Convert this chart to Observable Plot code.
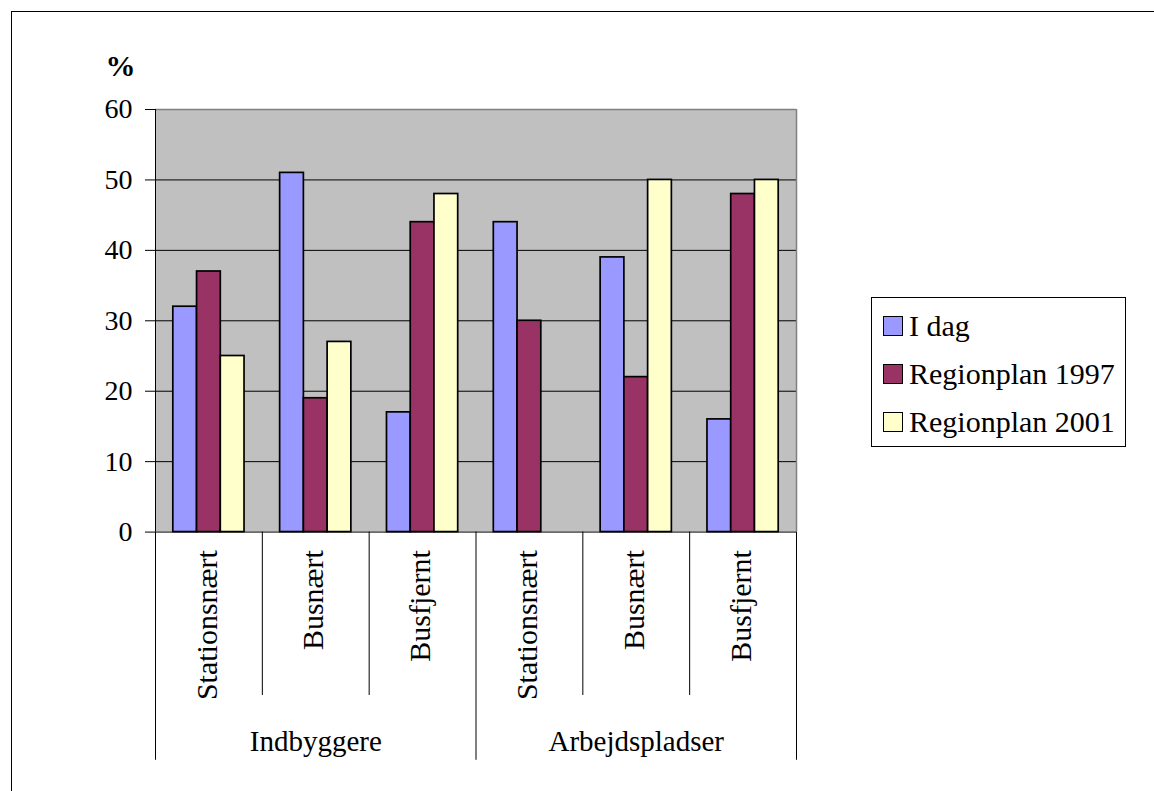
<!DOCTYPE html>
<html>
<head>
<meta charset="utf-8">
<script src="https://cdn.jsdelivr.net/npm/d3@7"></script>
<script src="https://cdn.jsdelivr.net/npm/@observablehq/plot@0.6"></script>
<style>
  html, body { margin: 0; padding: 0; background: #fff; }
  #wrap { position: relative; width: 1154px; height: 791px; overflow: hidden; font-family: "Liberation Serif", "Times New Roman", serif; }
  #frame { position: absolute; left: 11px; top: 11px; width: 1200px; height: 900px; border-top: 1.5px solid #000; border-left: 1.5px solid #000; }
  #chart { position: absolute; left: 0; top: 0; }
  #legend { position: absolute; left: 871px; top: 297px; width: 253px; height: 144px; border: 1px solid #000; background: #fff; padding-top: 4px; box-sizing: content-box; }
  .item { height: 48px; display: flex; align-items: center; font-size: 30px; color: #000; }
  .sw { width: 18px; height: 18px; border: 1.5px solid #000; margin-left: 11px; margin-right: 6px; }
</style>
</head>
<body>
<div id="wrap">
  <div id="frame"></div>
  <div id="chart"></div>
  <div id="legend"></div>
</div>
<script>
// ---- data ----
const groupNames = ["Indbyggere", "Arbejdspladser"];
const subcats = ["Stationsnært", "Busnært", "Busfjernt", "Stationsnært", "Busnært", "Busfjernt"];
const series = ["I dag", "Regionplan 1997", "Regionplan 2001"];
const iDag = [32, 51, 17, 44, 39, 16];
const rp1997 = [37, 19, 44, 30, 22, 48];
const rp2001 = [25, 27, 48, null, 50, 50];
const colors = ["#9999FF", "#993366", "#FFFFCC"];
const yTicks = [0, 10, 20, 30, 40, 50, 60];

// ---- table ----
const seriesValues = [iDag, rp1997, rp2001];
const rows = [];
subcats.forEach((c, i) => {
  seriesValues.forEach((vals, s) => {
    if (vals[i] != null) rows.push({i, s, series: series[s], value: vals[i]});
  });
});

const gapWidth = 1.5;                       // Excel-like gap width (150%)
const slots = series.length + gapWidth;
const nCat = subcats.length;
const perGroup = nCat / groupNames.length;

const chart = Plot.plot({
  width: 1154,
  height: 791,
  marginLeft: 155,
  marginRight: 358,
  marginTop: 109,
  marginBottom: 27,
  style: {fontFamily: "'Liberation Serif', 'Times New Roman', serif", fontSize: "28px", background: "transparent", color: "#000", overflow: "visible"},
  x: {type: "linear", domain: [0, nCat], axis: null},
  y: {domain: [-33, 60], ticks: yTicks, tickSize: 10, tickPadding: 13, label: null, tickFormat: d => String(d)},
  color: {domain: series, range: colors},
  marks: [
    Plot.rect([0], {x1: 0, x2: nCat, y1: 0, y2: 60, fill: "#C0C0C0"}),
    Plot.ruleY(yTicks.filter(t => t > 0 && t < 60), {x1: 0, x2: nCat, stroke: "#000", strokeWidth: 1}),
    Plot.ruleY([60], {x1: 0, x2: nCat, stroke: "#808080", strokeWidth: 1.5}),
    Plot.ruleX([nCat], {y1: 0, y2: 60, stroke: "#808080", strokeWidth: 1.5}),
    Plot.rectY(rows, {
      x1: d => d.i + (gapWidth / 2 + d.s) / slots,
      x2: d => d.i + (gapWidth / 2 + d.s + 1) / slots,
      y1: 0, y2: "value",
      fill: "series", stroke: "#000", strokeWidth: 1.7
    }),
    Plot.ruleX([0], {y1: 0, y2: 60, stroke: "#000", strokeWidth: 1}),
    Plot.ruleY([0], {x1: 0, x2: nCat, stroke: "#000", strokeWidth: 1}),
    // category dividers below the axis
    Plot.ruleX(d3.range(0, nCat + 1), {
      y1: 0,
      y2: d => d % perGroup === 0 ? -32.4 : -23.2,
      stroke: "#000", strokeWidth: 1
    }),
    Plot.text(subcats, {x: (d, i) => i + 0.5, y: 0, text: d => d, rotate: -90, textAnchor: "end", dy: 18, dx: -2, fontSize: 30, fill: "#000"}),
    Plot.text(groupNames, {x: (d, i) => i * perGroup + perGroup / 2, y: 0, text: d => d, dy: 210, fontSize: 29, fill: "#000"}),
    Plot.text(["%"], {x: 0, y: 60, text: d => d, dx: -35, dy: -43, fontSize: 30, fontWeight: "bold", fill: "#000"})
  ]
});
document.getElementById("chart").appendChild(chart);

// legend
const legend = document.getElementById("legend");
series.forEach((s, k) => {
  const item = document.createElement("div");
  item.className = "item";
  const sw = document.createElement("div");
  sw.className = "sw";
  sw.style.background = colors[k];
  const lab = document.createElement("span");
  lab.textContent = s;
  item.appendChild(sw);
  item.appendChild(lab);
  legend.appendChild(item);
});
</script>
</body>
</html>
